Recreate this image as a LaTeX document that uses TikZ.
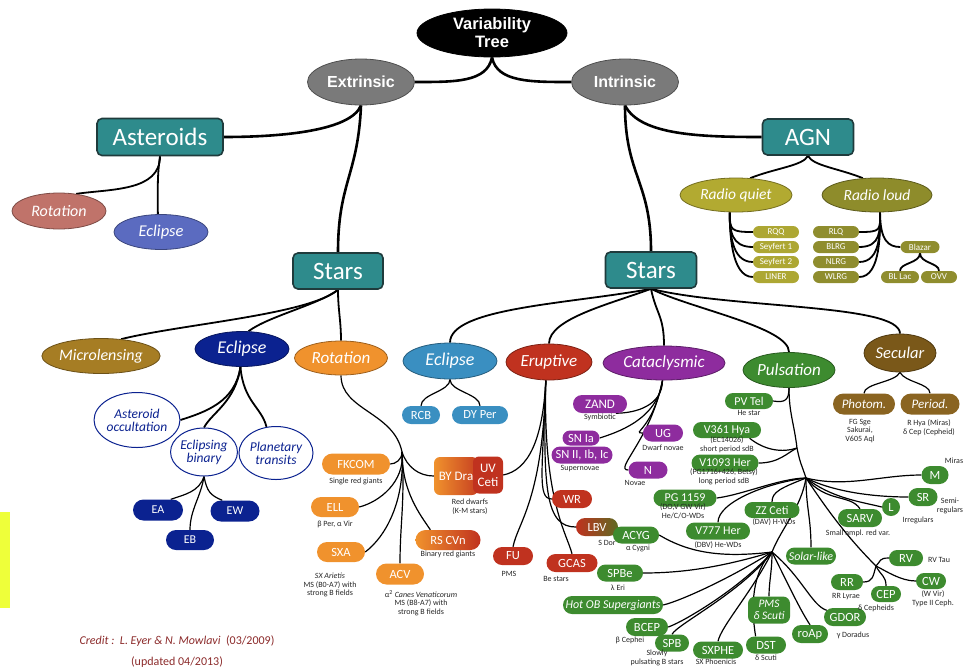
\documentclass[tikz,border=0pt]{standalone}
\usepackage{fontspec}
\setmainfont{Carlito}
\newfontfamily\hv{Liberation Sans}
\usetikzlibrary{shapes.geometric,shapes.misc,backgrounds}
\definecolor{tealc}{HTML}{2E8B8C}
\definecolor{teald}{HTML}{1F3B3C}
\definecolor{greyc}{HTML}{7A7A7A}
\definecolor{rotac}{HTML}{C0736A}
\definecolor{eclac}{HTML}{5B6BC0}
\definecolor{rqc}{HTML}{B2AA31}
\definecolor{rlc}{HTML}{8E8C2B}
\definecolor{rqpill}{HTML}{ADA733}
\definecolor{rlpill}{HTML}{8F8D2E}
\definecolor{microc}{HTML}{A67D24}
\definecolor{navyc}{HTML}{0B2290}
\definecolor{orangec}{HTML}{F0922D}
\definecolor{bluec}{HTML}{3A8FC1}
\definecolor{redc}{HTML}{C0321F}
\definecolor{purplec}{HTML}{8E2C9E}
\definecolor{greenc}{HTML}{3D8B2F}
\definecolor{secc}{HTML}{7A5819}
\definecolor{brownp}{HTML}{8A6421}
\definecolor{creditc}{HTML}{8B2A2A}
\definecolor{yellowc}{HTML}{EEFF3A}
\definecolor{olivegr}{HTML}{5E6A22}
\begin{document}
\begin{tikzpicture}[x=1pt,y=-1pt,
  sz/.style 2 args={minimum width=#1pt, minimum height=#2pt},
  oval/.style={ellipse, inner sep=0pt, draw=#1!65!black, fill=#1, line width=0.8pt, text=white},
  tbox/.style={rectangle, rounded corners=5pt, draw=teald, line width=1.6pt, fill=tealc, text=white, inner sep=0pt, font=\fontsize{25}{26}\selectfont},
  ovi/.style={font=\fontsize{#1}{#1}\selectfont\itshape},
  pill/.style={rounded rectangle, inner sep=0pt, fill=#1, text=white, font=\fontsize{12.5}{13}\selectfont},
  spill/.style={rounded rectangle, inner sep=0pt, fill=#1, text=white, font=\fontsize{9}{9}\selectfont},
  wh/.style={ellipse, inner sep=0pt, draw=navyc, line width=1pt, fill=white, text=navyc, align=center, font=\fontsize{13.5}{13}\selectfont\itshape},
  capt/.style={inner sep=0pt, align=center, font=\fontsize{8}{8.6}\selectfont, text=black!85},
  L1/.style={line width=2.6pt},
  L2/.style={line width=1.8pt},
  L3/.style={line width=1.2pt},
]
\useasboundingbox (0,0) rectangle (965,670);
\fill[yellowc] (0,512) rectangle (10,608);

% ---- top levels
\node[oval=black, sz={150}{48}, align=center, font=\hv\bfseries\fontsize{16.5}{18}\selectfont] (vt) at (492,33) {Variability\\Tree};
\node[oval=greyc, sz={107}{46}, font=\hv\bfseries\fontsize{16}{17}\selectfont] (ext) at (361,82) {Extrinsic};
\node[oval=greyc, sz={107}{46}, font=\hv\bfseries\fontsize{16}{17}\selectfont] (int) at (625,82) {Intrinsic};
\node[tbox, sz={126}{37}] (ast) at (160,137) {Asteroids};
\node[tbox, sz={90}{36}] (starsL) at (338,271) {Stars};
\node[tbox, sz={91}{36}] (starsR) at (651,270) {Stars};
\node[tbox, sz={91}{36}] (agn) at (808,137) {AGN};

% ---- asteroids
\node[oval=rotac, sz={94}{36}, ovi=16] (rotA) at (59,211) {Rotation};
\node[oval=eclac, sz={94}{35}, ovi=16.5] (eclA) at (161,232) {Eclipse};

% ---- AGN
\node[oval=rqc, sz={112}{34}, ovi=15.5] (rq) at (736,195) {Radio quiet};
\node[oval=rlc, sz={110}{34}, ovi=15.5] (rl) at (877,195) {Radio loud};
\node[spill=rqpill, sz={46}{12}] (rqq) at (776,232) {RQQ};
\node[spill=rqpill, sz={46}{12}] (sey1) at (776,247) {Seyfert 1};
\node[spill=rqpill, sz={46}{12}] (sey2) at (776,262) {Seyfert 2};
\node[spill=rqpill, sz={46}{12}] (liner) at (776,277) {LINER};
\node[spill=rlpill, sz={46}{12}] (rlq) at (836,232) {RLQ};
\node[spill=rlpill, sz={46}{12}] (blrg) at (836,247) {BLRG};
\node[spill=rlpill, sz={46}{12}] (nlrg) at (836,262) {NLRG};
\node[spill=rlpill, sz={46}{12}] (wlrg) at (836,277) {WLRG};
\node[spill=rlpill, sz={39}{12}] (blazar) at (920,247) {Blazar};
\node[spill=rlpill, sz={38}{12}] (bllac) at (900,277) {BL Lac};
\node[spill=rlpill, sz={36}{12}] (ovv) at (939,277) {OVV};

% ---- left stars
\node[oval=microc, sz={112}{35}, ovi=16] (micro) at (101,356) {Microlensing};
\node[oval=navyc, sz={94}{35}, ovi=18] (eclN) at (242,349) {Eclipse};
\node[oval=orangec, sz={93}{34}, ovi=17] (rotO) at (341,358) {Rotation};
\node[wh, sz={75}{55}] (astocc) at (137,420) {Asteroid\\occultation};
\node[wh, sz={64}{48}] (ebin) at (204,452) {Eclipsing\\binary};
\node[wh, sz={66}{53}] (ptr) at (276,453) {Planetary\\transits};
\node[pill=navyc, sz={50}{21}, font=\fontsize{12}{12}\selectfont] (ea) at (158,510) {EA};
\node[pill=navyc, sz={49}{21}, font=\fontsize{12}{12}\selectfont] (ew) at (235,511) {EW};
\node[pill=navyc, sz={48}{20}, font=\fontsize{12}{12}\selectfont] (eb) at (190,540) {EB};

% ---- rotation children
\node[pill=orangec, sz={68}{21}] (fk) at (356,464) {FKCOM};
\node[capt] at (356,481) {Single red giants};
\node[pill=orangec, sz={48}{20}] (ell) at (335,507) {ELL};
\node[capt] at (335,524) {β Per, α Vir};
\node[pill=orangec, sz={48}{20}] (sxa) at (341,552) {SXA};
\node[capt] at (330,585) {\textit{SX Arietis}\\MS (B0-A7) with\\strong B fields};
\node[pill=orangec, sz={48}{21}] (acv) at (400,574) {ACV};
\node[capt] at (421,603) {α\textsuperscript{2} \textit{Canes Venaticorum}\\MS (B8-A7) with\\strong B fields};
\node[rounded rectangle, inner sep=0pt, left color=orangec, right color=redc, text=white, font=\fontsize{12.5}{13}\selectfont, sz={65}{20}] (rscvn) at (448,540) {RS CVn};
\node[capt] at (448,554) {Binary red giants};
\node[rectangle, rounded corners=6pt, inner sep=0pt, left color=orangec, right color=redc!85!orangec, text=white, font=\fontsize{13}{13}\selectfont, sz={44}{38}] (byd) at (456,476) {BY Dra};
\node[rectangle, rounded corners=6pt, inner sep=0pt, fill=redc, text=white, align=center, font=\fontsize{13}{14}\selectfont, sz={30}{37}] (ucet) at (488,475) {UV\\Ceti};
\node[capt] at (470,507) {Red dwarfs\\(K-M stars)};

% ---- right stars classes
\node[oval=bluec, sz={94}{36}, ovi=18] (eclB) at (450,361) {Eclipse};
\node[oval=redc, sz={86}{36}, ovi=17] (erupt) at (549,362) {Eruptive};
\node[oval=purplec, sz={122}{34}, ovi=17] (cata) at (664,363) {Cataclysmic};
\node[oval=greenc, sz={92}{35}, ovi=17] (puls) at (789,370) {Pulsation};
\node[oval=secc, sz={72}{38}, ovi=16.5] (sec) at (900,353) {Secular};

\node[pill=bluec, sz={38}{18}] (rcb) at (421,415) {RCB};
\node[pill=bluec, sz={56}{18}] (dyper) at (480,415) {DY Per};

% cataclysmic
\node[pill=purplec, sz={54}{18}, font=\fontsize{13}{13}\selectfont] (zand) at (600,404) {ZAND};
\node[capt] at (600,417) {Symbiotic};
\node[pill=purplec, sz={37}{15}] (sn1a) at (581,438) {SN Ia};
\node[pill=purplec, sz={61}{17}] (sn2) at (582,455) {SN II, Ib, Ic};
\node[capt] at (580,469) {Supernovae};
\node[pill=purplec, sz={40}{17}] (ug) at (663,433) {UG};
\node[capt] at (663,448) {Dwarf novae};
\node[pill=purplec, sz={39}{17}] (nn) at (648,470) {N};
\node[capt] at (635,483) {Novae};

% eruptive
\node[pill=redc, sz={40}{18}] (wr) at (572,499) {WR};
\node[rounded rectangle, inner sep=0pt, left color=redc, right color=olivegr, text=white, font=\fontsize{12.5}{13}\selectfont, sz={42}{18}] (lbv) at (597,527) {LBV};
\node[capt] at (607,543) {S Dor};
\node[pill=greenc, sz={46}{17}] (acyg) at (636,535) {ACYG};
\node[capt] at (638,548) {α Cygni};
\node[pill=redc, sz={40}{18}] (fu) at (513,556) {FU};
\node[capt] at (509,574) {PMS};
\node[pill=redc, sz={51}{18}] (gcas) at (572,563) {GCAS};
\node[capt] at (556,579) {Be stars};

% pulsation
\node[pill=greenc, sz={48}{16}, font=\fontsize{12}{12}\selectfont] (pvtel) at (749,401) {PV Tel};
\node[capt] at (749,413) {He star};
\node[pill=greenc, sz={68}{16}, font=\fontsize{12}{12}\selectfont] (v361) at (727,430) {V361 Hya};
\node[capt] at (727,445) {(EC14026)\\short period sdB};
\node[pill=greenc, sz={67}{17}, font=\fontsize{12}{12}\selectfont] (v1093) at (725,463) {V1093 Her};
\node[capt] at (724,477) {(PG1716+426, Betsy)\\long period sdB};
\node[pill=greenc, sz={63}{17}, font=\fontsize{12}{12}\selectfont] (pg) at (685,498) {PG 1159};
\node[capt] at (683,511) {(DO,V GW Vir)\\He/C/O-WDs};
\node[pill=greenc, sz={55}{16}, font=\fontsize{12}{12}\selectfont] (zz) at (772,510) {ZZ Ceti};
\node[capt] at (774,522) {(DAV) H-WDs};
\node[pill=greenc, sz={64}{17}, font=\fontsize{12}{12}\selectfont] (v777) at (718,531) {V777 Her};
\node[capt] at (718,545) {(DBV) He-WDs};
\node[pill=greenc, sz={46}{17}] (spbe) at (620,573) {SPBe};
\node[capt] at (618,588) {λ Eri};
\node[pill=greenc, sz={100}{18}, font=\fontsize{12}{12}\selectfont\itshape] (hotob) at (613,605) {Hot OB Supergiants};
\node[pill=greenc, sz={42}{18}] (bcep) at (647,627) {BCEP};
\node[capt] at (630,640) {β Cephei};
\node[pill=greenc, sz={34}{17}] (spb) at (672,643) {SPB};
\node[capt] at (657,658) {Slowly\\pulsating B stars};
\node[pill=greenc, sz={50}{17}] (sxphe) at (718,650) {SXPHE};
\node[capt] at (716,662) {SX Phoenicis};
\node[rectangle, rounded corners=7pt, inner sep=0pt, fill=greenc, text=white, align=center, font=\fontsize{11.5}{12}\selectfont\itshape, sz={42}{27}] (pms) at (769,610) {PMS\\δ Scuti};
\node[pill=greenc, sz={40}{17}] (dst) at (766,645) {DST};
\node[capt] at (766,658) {δ Scuti};
\node[pill=greenc, sz={36}{18}] (roap) at (810,634) {roAp};
\node[pill=greenc, sz={42}{18}] (gdor) at (845,617) {GDOR};
\node[capt] at (853,635) {γ Doradus};
\node[pill=greenc, sz={50}{17}, font=\fontsize{12}{12}\selectfont\itshape] (solar) at (811,556) {Solar-like};
\node[pill=greenc, sz={34}{16}] (rv) at (906,558) {RV};
\node[capt] at (939,560) {RV Tau};
\node[pill=greenc, sz={32}{16}] (rr) at (847,582) {RR};
\node[capt] at (846,597) {RR Lyrae};
\node[pill=greenc, sz={30}{16}] (cep) at (886,594) {CEP};
\node[capt] at (876,608) {δ Cepheids};
\node[pill=greenc, sz={30}{16}] (cw) at (931,581) {CW};
\node[capt] at (933,599) {(W Vir)\\Type II Ceph.};
\node[pill=greenc, sz={44}{18}] (sarv) at (860,518) {SARV};
\node[capt] at (858,533) {Small ampl. red var.};
\node[circle, inner sep=0pt, fill=greenc, text=white, font=\fontsize{12.5}{13}\selectfont, minimum size=18pt] (ll) at (891,507) {L};
\node[capt] at (918,520) {Irregulars};
\node[pill=greenc, sz={29}{18}] (sr) at (923,497) {SR};
\node[capt] at (950,506) {Semi-\\regulars};
\node[pill=greenc, sz={27}{18}] (mm) at (935,475) {M};
\node[capt] at (954,461) {Miras};

% secular
\node[pill=brownp, sz={62}{21}, font=\fontsize{13}{13}\selectfont\itshape] (photom) at (864,404) {Photom.};
\node[capt] at (860,431) {FG Sge\\Sakurai,\\V605 Aql};
\node[pill=brownp, sz={59}{21}, font=\fontsize{13}{13}\selectfont\itshape] (period) at (930,404) {Period.};
\node[capt] at (929,428) {R Hya (Miras)\\δ Cep (Cepheid)};

% credit
\node[inner sep=0pt, text=creditc, font=\fontsize{12}{13}\selectfont] (credit) at (177,641) {\textit{Credit :\ \ L. Eyer \& N. Mowlavi}\ \ (03/2009)};
\node[inner sep=0pt, text=creditc, font=\fontsize{12}{13}\selectfont] (upd) at (177,662) {(updated 04/2013)};

% junction points
\coordinate (rj) at (402,452);
\coordinate (pj) at (797,448);
\coordinate (pt) at (806,478);
\coordinate (ph) at (772,552);
\coordinate (rvj) at (876,566);

\begin{scope}[on background layer]
% top
\draw[L1] (vt.south) .. controls +(-5,25) and +(40,0) .. (ext.east);
\draw[L1] (vt.south) .. controls +(5,25) and +(-40,0) .. (int.west);
\draw[L1] (ext.south) .. controls +(-10,25) and +(60,0) .. (ast.east);
\draw[L1] (ext.south) .. controls +(-3,70) and +(0,-70) .. (starsL.north);
\draw[L1] (int.south) .. controls +(15,30) and +(-60,0) .. (agn.west);
\draw[L1] (int.south) .. controls +(0,70) and +(0,-70) .. (starsR.north);
\draw[L2] (ast.south) .. controls +(0,35) and +(35,-5) .. (rotA.45);
\draw[L2] (ast.south) .. controls +(-3,20) and +(0,-20) .. (eclA.100);
% AGN
\draw[L2] (agn.south) .. controls +(-5,10) and +(25,-10) .. (rq.50);
\draw[L2] (agn.south) .. controls +(5,10) and +(-25,-10) .. (rl.130);
\foreach \n in {rqq,sey1,sey2,liner}
  \draw[L2] (rq.250) .. controls +(0,18) and +(-22,0) .. (\n.west);
\foreach \n in {rlq,blrg,nlrg,wlrg}
  \draw[L2] (rl.280) .. controls +(0,18) and +(22,0) .. (\n.east);
\draw[L2] (rl.280) .. controls +(0,28) and +(-12,0) .. (blazar.west);
\draw[L2] (blazar.south) .. controls +(0,10) and +(0,-8) .. (bllac.north);
\draw[L2] (blazar.south) .. controls +(0,10) and +(0,-8) .. (ovv.north);
% left stars
\draw[L2] (starsL.south) .. controls +(-30,25) and +(60,-15) .. (micro.40);
\draw[L2] (starsL.south) .. controls +(-20,15) and +(20,-15) .. (eclN.70);
\draw[L2] (starsL.south) .. controls +(0,20) and +(0,-20) .. (rotO.north);
\draw[L2] (eclN.265) .. controls +(-5,35) and +(25,-8) .. (astocc.east);
\draw[L2] (eclN.265) .. controls +(-5,35) and +(8,-15) .. (ebin.north);
\draw[L2] (eclN.265) .. controls +(3,35) and +(-5,-20) .. (ptr.110);
\draw[L3] (ebin.south) .. controls +(-5,15) and +(15,-5) .. (ea.40);
\draw[L3] (ebin.south) .. controls +(-3,20) and +(0,-20) .. (eb.north);
\draw[L3] (ebin.south) .. controls +(3,15) and +(-12,-5) .. (ew.140);
% rotation
\draw[L3] (rotO.south) .. controls +(0,35) and +(-8,-40) .. (rj);
\draw[L3] (rj) .. controls +(5,15) and +(-15,0) .. (byd.west);
\draw[L3] (rj) .. controls +(0,8) and +(5,0) .. (fk.east);
\draw[L3] (rj) .. controls +(3,30) and +(20,-5) .. (ell.east);
\draw[L3] (rj) .. controls +(3,50) and +(20,-15) .. (sxa.east);
\draw[L3] (rj) .. controls +(0,40) and +(-10,-15) .. (rscvn.150);
\draw[L3] (rj) .. controls +(3,50) and +(0,-40) .. (acv.north);
% right stars
\draw[L2] (starsR.south) .. controls +(-80,15) and +(0,-35) .. (eclB.north);
\draw[L2] (starsR.south) .. controls +(-40,15) and +(0,-25) .. (erupt.north);
\draw[L2] (starsR.south) .. controls +(5,25) and +(0,-30) .. (cata.north);
\draw[L2] (starsR.south) .. controls +(40,20) and +(0,-25) .. (puls.north);
\draw[L2] (starsR.south) .. controls +(80,20) and +(0,-30) .. (sec.north);
\draw[L3] (eclB.south) .. controls +(0,12) and +(0,-12) .. (rcb.north);
\draw[L3] (eclB.south) .. controls +(0,12) and +(0,-12) .. (dyper.north);
\draw[L3] (sec.south) .. controls +(-5,10) and +(0,-10) .. (photom.north);
\draw[L3] (sec.south) .. controls +(5,10) and +(0,-10) .. (period.north);
% eruptive
\draw[L3] (erupt.260) .. controls +(-3,60) and +(25,-5) .. (ucet.east);
\draw[L3] (erupt.260) .. controls +(-3,90) and +(-15,0) .. (wr.west);
\draw[L3] (erupt.260) .. controls +(-3,110) and +(-30,0) .. (lbv.west);
\draw[L3] (erupt.260) .. controls +(-3,120) and +(5,-25) .. (fu.north);
\draw[L3] (erupt.260) .. controls +(-3,120) and +(-5,-20) .. (gcas.north);
% cataclysmic
\draw[L3] (cata.265) .. controls +(0,25) and +(20,0) .. (zand.-30);
\draw[L3] (cata.265) .. controls +(-5,40) and +(15,-5) .. (sn1a.east);
\draw[L3] (cata.265) .. controls +(-10,50) and +(-12,0) .. (ug.west);
\draw[L3] (cata.265) .. controls +(-12,60) and +(-15,0) .. (nn.west);
% pulsation
\draw[L3] (puls.south) .. controls +(0,12) and +(12,2) .. (pvtel.east);
\draw[L3] (puls.south) .. controls +(0,25) and +(-3,-25) .. (pj) .. controls +(3,15) and +(-5,-15) .. (pt);
\draw[L3] (v361.-20) .. controls +(15,12) and +(-15,5) .. (pj);
\draw[L3] (v1093.east) .. controls +(20,0) and +(-10,5) .. (pj);
\draw[L3] (pt) .. controls +(-25,0) and +(25,-3) .. (pg.east);
\draw[L3] (pt) .. controls +(-40,5) and +(0,-20) .. (v777.north);
\draw[L3] (pt) .. controls +(-25,10) and +(0,-10) .. (zz.north);
\draw[L3] (pt) .. controls +(-5,30) and +(10,-25) .. (ph);
\draw[L3] (pt) .. controls +(0,30) and +(0,-30) .. (solar.north);
\draw[L3] (pt) .. controls +(20,30) and +(-30,-30) .. (rvj);
\draw[L3] (pt) .. controls +(40,10) and +(-40,0) .. (mm.west);
\draw[L3] (pt) .. controls +(30,15) and +(-30,0) .. (sr.west);
\draw[L3] (pt) .. controls +(25,20) and +(-20,-5) .. (ll.west);
\draw[L3] (pt) .. controls +(20,25) and +(-10,-15) .. (sarv.north);
\draw[L3] (rvj) .. controls +(5,-5) and +(-10,0) .. (rv.west);
\draw[L3] (rvj) .. controls +(-3,10) and +(10,0) .. (rr.east);
\draw[L3] (rvj) .. controls +(5,10) and +(0,-10) .. (cep.north);
\draw[L3] (rvj) .. controls +(10,5) and +(-15,0) .. (cw.west);
\draw[L3] (ph) .. controls +(-50,6) and +(30,18) .. (acyg.east);
\draw[L3] (ph) .. controls +(-50,15) and +(40,0) .. (spbe.east);
\draw[L3] (ph) .. controls +(-40,25) and +(20,-5) .. (hotob.east);
\draw[L3] (ph) .. controls +(-30,35) and +(15,-5) .. (bcep.east);
\draw[L3] (ph) .. controls +(-30,40) and +(5,-10) .. (spb.north);
\draw[L3] (ph) .. controls +(-20,40) and +(3,-15) .. (sxphe.north);
\draw[L3] (ph) .. controls +(-20,20) and +(-5,-30) .. (dst.140);
\draw[L3] (ph) .. controls +(0,20) and +(0,-15) .. (pms.north);
\draw[L3] (ph) .. controls +(15,30) and +(-10,-15) .. (roap.north);
\draw[L3] (ph) .. controls +(30,25) and +(-15,-5) .. (gdor.160);
\end{scope}
\end{tikzpicture}
\end{document}
